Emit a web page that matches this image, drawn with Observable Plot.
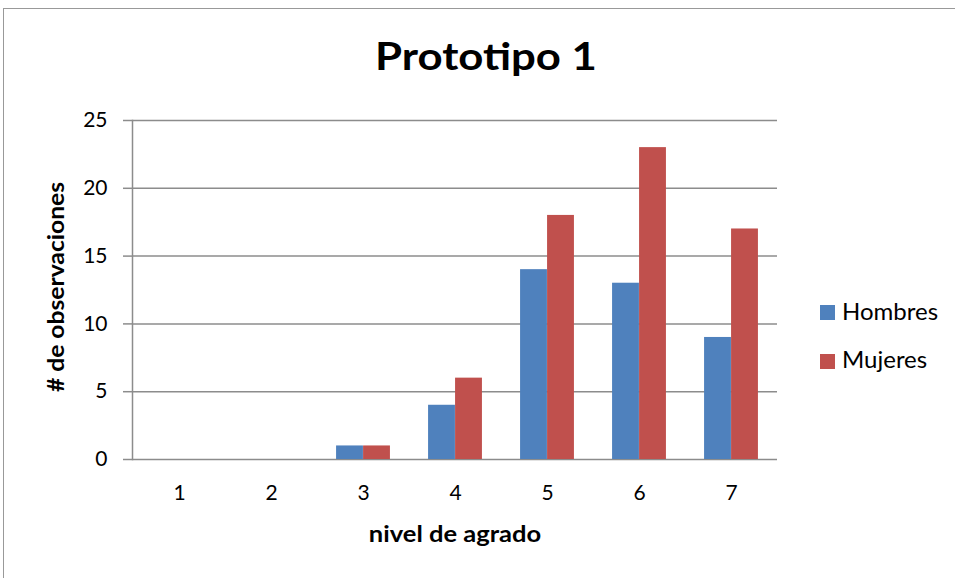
<!DOCTYPE html>
<html><head><meta charset="utf-8">
<script src="https://cdn.jsdelivr.net/npm/d3@7"></script>
<script src="https://cdn.jsdelivr.net/npm/@observablehq/plot@0.6"></script>
<style>
body{margin:0;background:#fff;}
#chart{position:relative;width:955px;height:578px;font-family:Lato,sans-serif;color:#000;overflow:hidden;background:#fff}
#border{position:absolute;left:3px;top:8px;width:1000px;height:620px;border:1px solid #999;box-sizing:border-box}
#plot{position:absolute;left:0;top:0}
.t{position:absolute;white-space:nowrap;line-height:1}
#title{left:486px;top:36px;transform:translateX(-50%) scaleX(1.15);font-size:38px;font-weight:bold}
#xlabel{left:455px;top:523px;transform:translateX(-50%) scaleX(1.16);font-size:22px;font-weight:bold}
#ylabel{left:56px;top:287px;transform:translate(-50%,-50%) rotate(-90deg) scaleX(1.12);font-size:22px;font-weight:bold}
.sw{position:absolute;left:820px;width:15px;height:15px}
.lt{position:absolute;left:842px;font-size:24px;line-height:1;white-space:nowrap}
</style></head>
<body>
<div id="chart">
  <div id="border"></div>
  <div id="plot"></div>
  <div id="title" class="t">Prototipo 1</div>
  <div id="xlabel" class="t">nivel de agrado</div>
  <div id="ylabel" class="t"># de observaciones</div>
  <div id="legend"></div>
</div>
<script>
const nivel = ["1","2","3","4","5","6","7"];
const hombres = [0,0,1,4,14,13,9];
const mujeres = [0,0,1,6,18,23,17];
const series = ["Hombres","Mujeres"];
const colors = ["#4F81BD","#C0504D"];
const yTicks = [0,5,10,15,20,25];

const data = nivel.flatMap((n,i)=>[
  {nivel:n, serie:"Hombres", valor:hombres[i]},
  {nivel:n, serie:"Mujeres", valor:mujeres[i]}
]).filter(d=>d.valor>0);

const grid = "#8c8c8c";
const chart = Plot.plot({
  width:955, height:578,
  marginLeft:132, marginRight:178, marginTop:120, marginBottom:119,
  style:{fontFamily:"Lato, sans-serif", fontSize:"21px", color:"#000", background:"transparent"},
  x:{domain:nivel, padding:0, axis:null},
  y:{domain:[0,25], axis:null},
  color:{domain:series, range:colors},
  marks:[
    Plot.ruleY(yTicks, {stroke:grid, strokeWidth:1.5}),
    Plot.barY(data.filter(d=>d.serie==="Hombres"), {x:"nivel", y:"valor", fill:"serie", insetLeft:19.07, insetRight:46.07}),
    Plot.barY(data.filter(d=>d.serie==="Mujeres"), {x:"nivel", y:"valor", fill:"serie", insetLeft:46.07, insetRight:19.07}),
    Plot.axisY(yTicks, {anchor:"left", tickSize:9, tickPadding:16, stroke:grid, strokeWidth:1.5, fill:"#000", label:null, fontSize:21}),
    Plot.axisX(nivel, {anchor:"bottom", tickSize:0, tickPadding:26, fill:"#000", label:null, fontSize:21}),
    Plot.frame({anchor:"left", stroke:grid, strokeWidth:1.5})
  ]
});
document.getElementById("plot").appendChild(chart);

const leg = document.getElementById("legend");
const swTops = [305, 354];
const txtTops = [299, 347];
series.forEach((s,i)=>{
  const sw = document.createElement("div");
  sw.className = "sw";
  sw.style.top = swTops[i] + "px";
  sw.style.background = colors[i];
  leg.appendChild(sw);
  const t = document.createElement("div");
  t.className = "lt";
  t.style.top = txtTops[i] + "px";
  t.textContent = s;
  leg.appendChild(t);
});
</script>
</body></html>
